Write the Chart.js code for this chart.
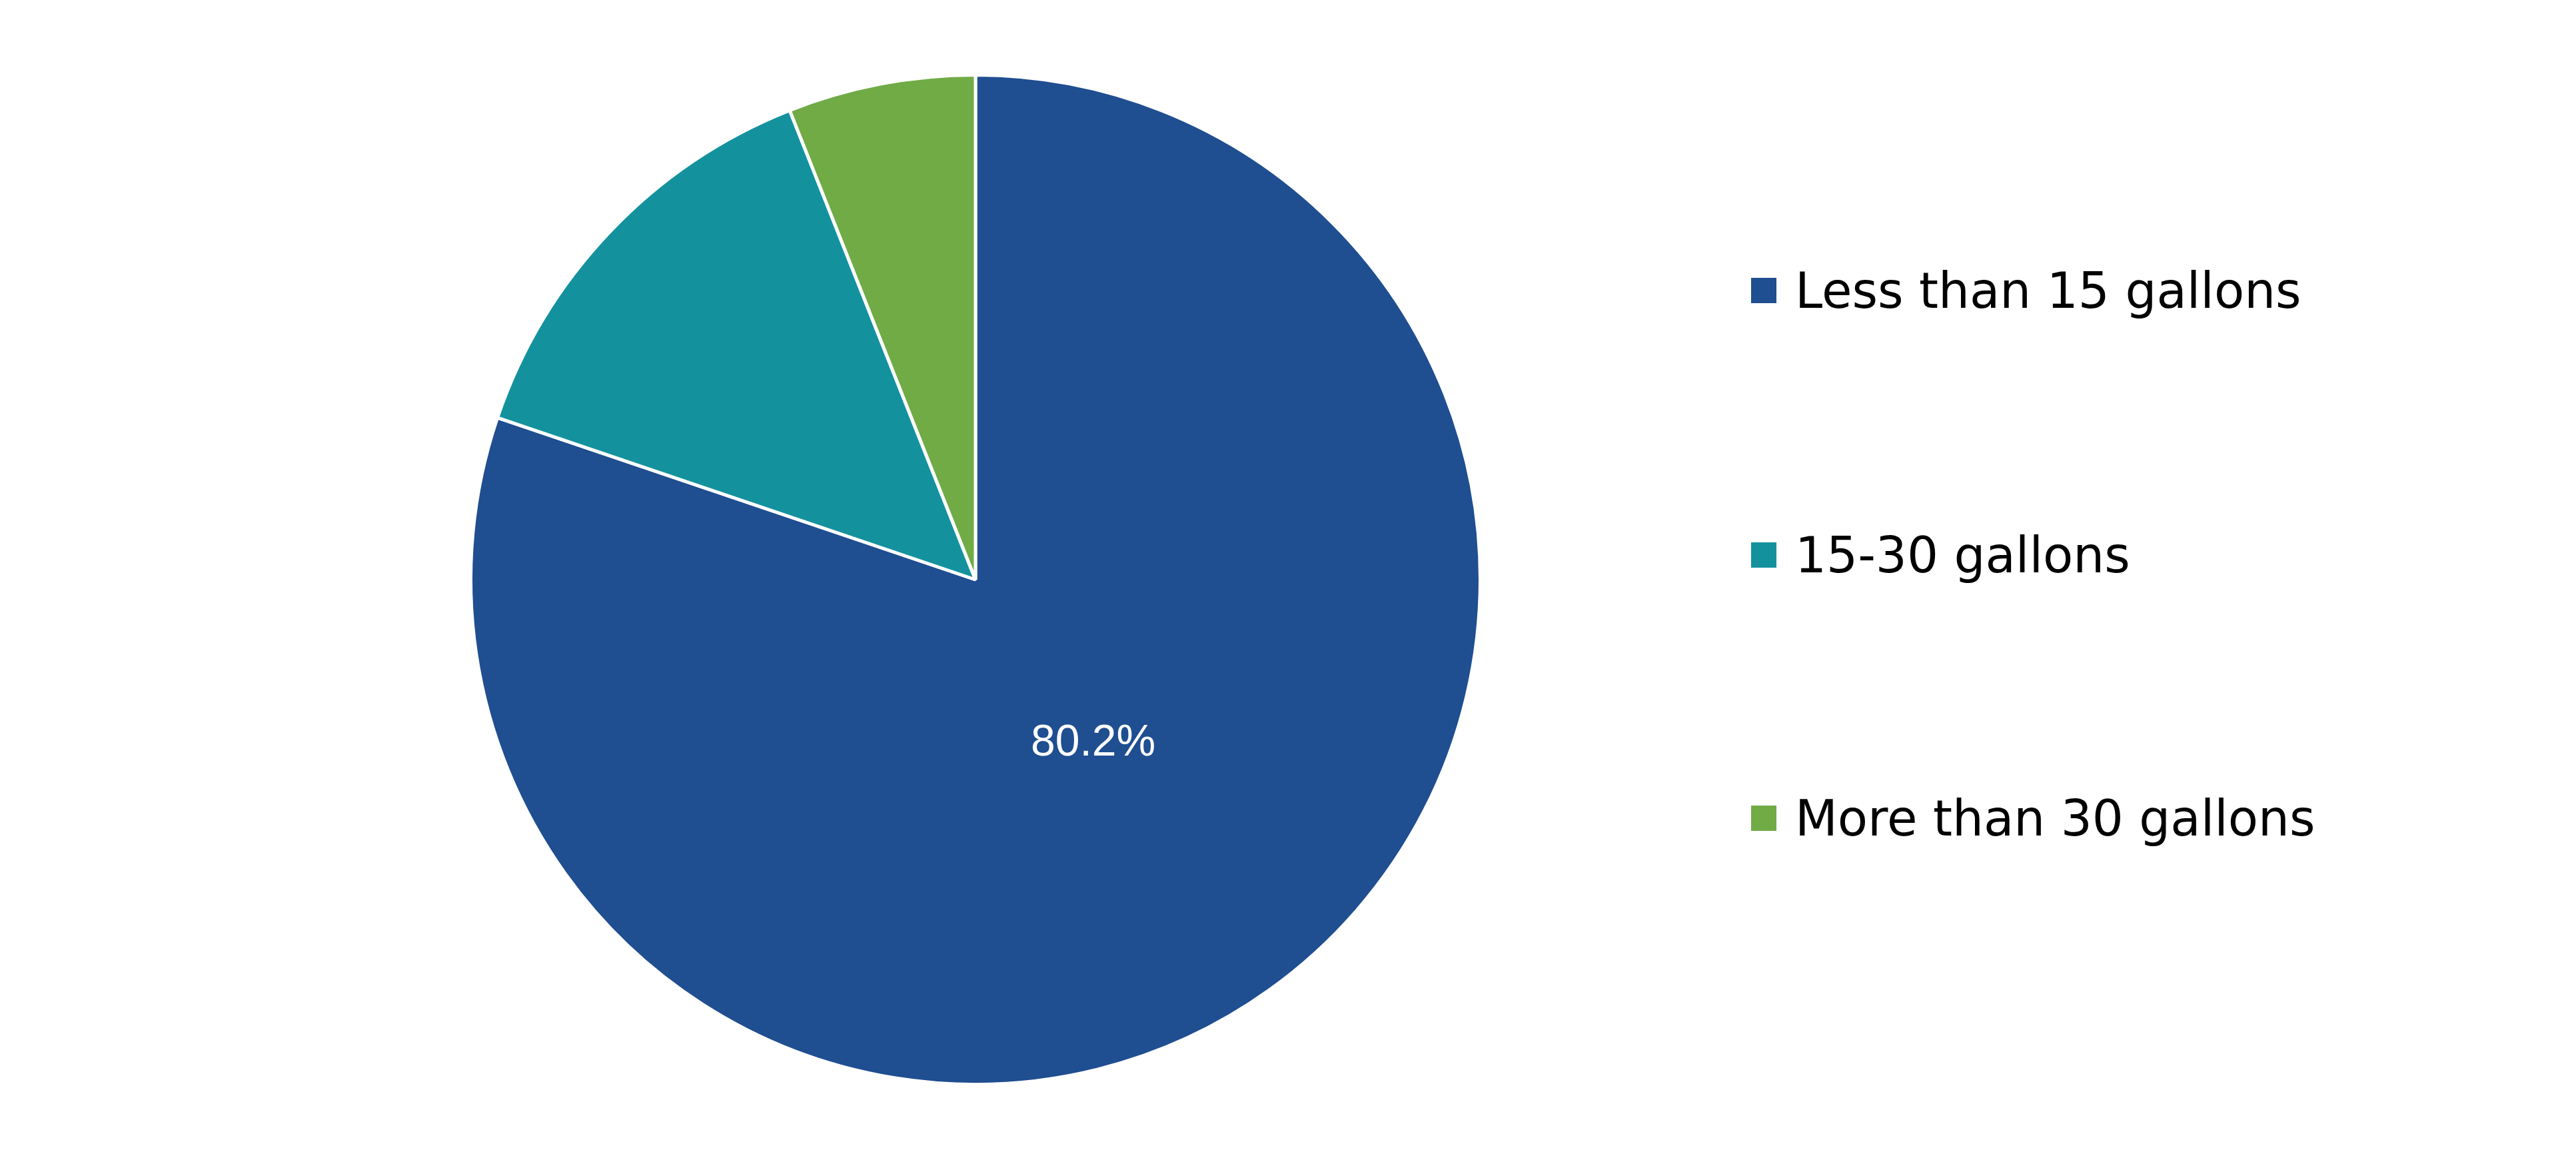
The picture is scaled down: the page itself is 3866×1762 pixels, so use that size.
<!DOCTYPE html>
<html>
<head>
<meta charset="utf-8">
<script src="https://cdn.jsdelivr.net/npm/chart.js@4"></script>
<style>
  html, body { margin: 0; padding: 0; background: #fff; }
  #wrap { position: relative; width: 3866px; height: 1762px; }
  #legend { position: absolute; left: 2628px; top: 0; font-family: "DejaVu Sans", Verdana, sans-serif; font-size: 74px; color: #000; }
  .item { position: absolute; white-space: nowrap; display: flex; align-items: center; }
  .box { width: 38px; height: 38px; margin-right: 28px; display: inline-block; }
</style>
</head>
<body>
<div id="wrap">
  <canvas id="chart" width="3866" height="1762"></canvas>
  <div id="legend"></div>
</div>
<script>
// DATA
const categories = ["Less than 15 gallons", "15-30 gallons", "More than 30 gallons"];
const shares = [80.2, 13.8, 6.0];
const colors = ["#1f4e91", "#13929e", "#70ab46"];
const labelledSlices = [0];

// only the big slice gets a value label
const sliceLabels = {
  id: "sliceLabels",
  afterDatasetsDraw(chart) {
    const ctx = chart.ctx;
    const meta = chart.getDatasetMeta(0);
    ctx.save();
    ctx.fillStyle = "#fff";
    ctx.font = "66px 'Liberation Sans', Arial, sans-serif";
    ctx.textAlign = "center";
    ctx.textBaseline = "middle";
    labelledSlices.forEach(i => {
      const arc = meta.data[i];
      const mid = (arc.startAngle + arc.endAngle) / 2;
      const r = arc.outerRadius * 0.4;
      ctx.fillText(shares[i].toFixed(1) + "%", arc.x + Math.cos(mid) * r, arc.y + Math.sin(mid) * r);
    });
    ctx.restore();
  }
};

new Chart(document.getElementById("chart"), {
  type: "pie",
  data: {
    labels: categories,
    datasets: [{
      data: shares,
      backgroundColor: colors,
      borderColor: "#fff",
      borderWidth: 5
    }]
  },
  options: {
    responsive: false,
    animation: false,
    layout: { padding: { left: 704, right: 1642, top: 110, bottom: 132 } },
    plugins: { legend: { display: false }, tooltip: { enabled: false } }
  },
  plugins: [sliceLabels]
});

// legend
const legend = document.getElementById("legend");
const legendTops = [393, 790, 1185];
categories.forEach((c, i) => {
  const item = document.createElement("div");
  item.className = "item";
  item.style.top = legendTops[i] + "px";
  item.innerHTML = `<span class="box" style="background:${colors[i]}"></span>${c}`;
  legend.appendChild(item);
});
</script>
</body>
</html>
